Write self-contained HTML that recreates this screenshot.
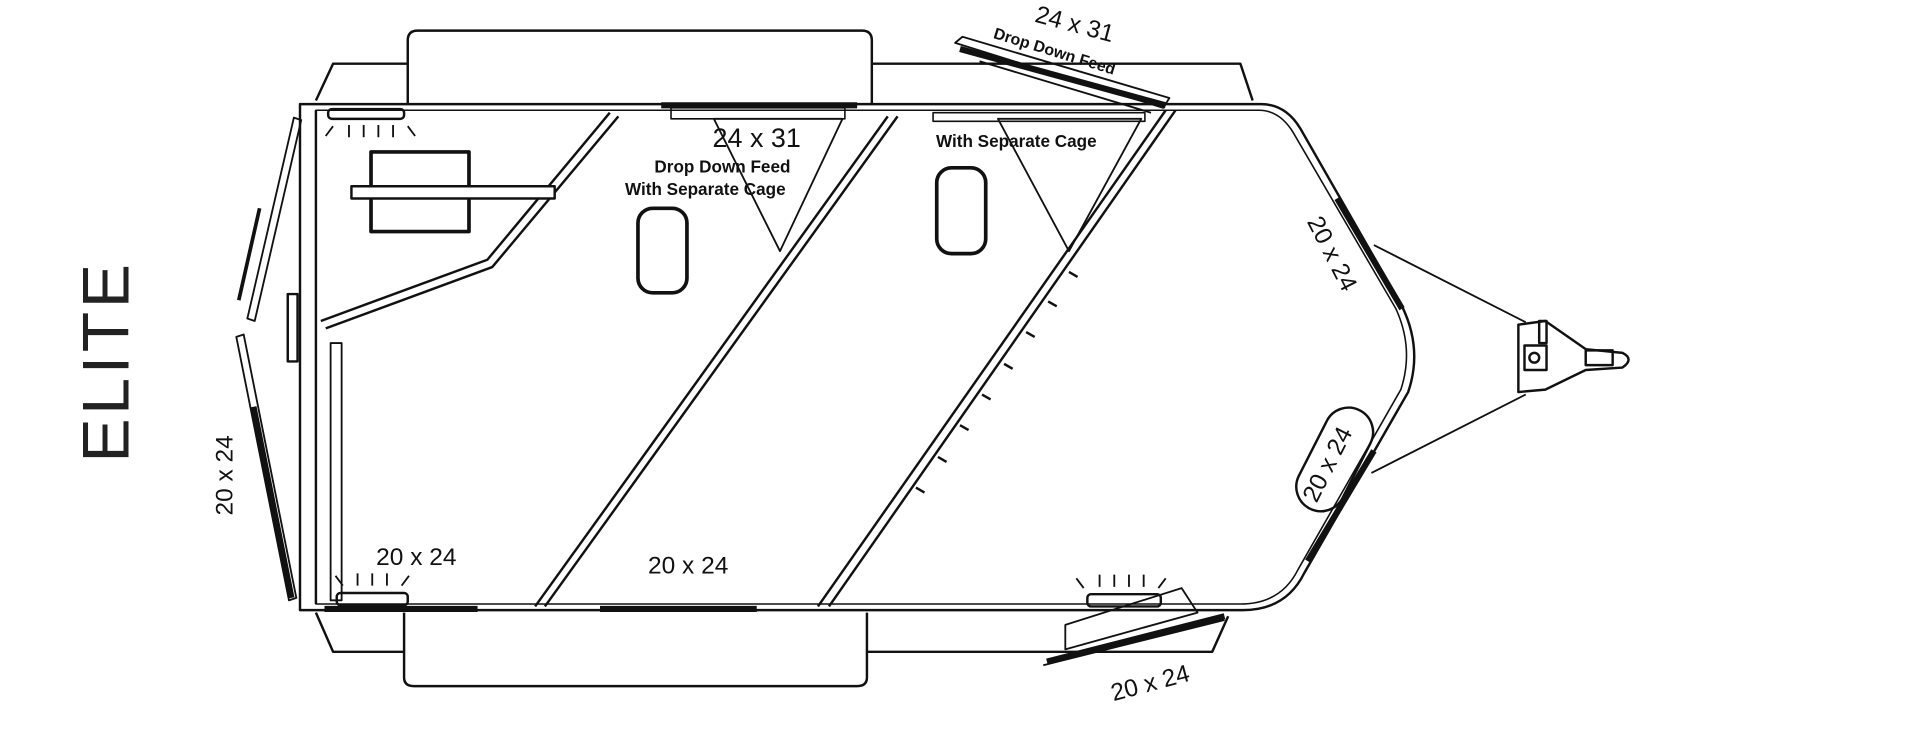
<!DOCTYPE html>
<html><head><meta charset="utf-8"><style>
html,body{margin:0;padding:0;background:#fff;}
svg{display:block}
text{font-family:"Liberation Sans",sans-serif;fill:#111}
</style></head><body>
<svg width="1920" height="740" viewBox="0 0 1568 604" preserveAspectRatio="none" xmlns="http://www.w3.org/2000/svg">
<g fill="none" stroke="#111" stroke-width="2" stroke-linejoin="round">
<path d="M333,85 V33 Q333,25 341,25 H704 Q712,25 712,33 V85"/>
<path d="M330,500 V553 Q330,560 338,560 H700 Q708,560 708,553 V500"/>
<path d="M258,82 L272,52 H333 M712,52 H1013 L1023,82"/>
<path d="M258,500 L272,532 H330 M708,532 H990 L1003,503"/>
<path d="M245,85 H1030 Q1050,85 1062,105 L1145,250 Q1162,285 1150,320 L1065,468 Q1050,498 1015,498 H245 Z"/>
<path d="M258,90 H1028 Q1045,90 1056,108 L1140,252 Q1155,285 1144,318 L1060,465 Q1046,493 1013,493 H258 Z" stroke-width="1.3"/>
<line x1="258" y1="90" x2="258" y2="493"/>
<g stroke-width="5">
<line x1="540" y1="86" x2="700" y2="86"/>
<line x1="265" y1="497" x2="390" y2="497"/>
<line x1="490" y1="497" x2="618" y2="497"/>
<line x1="1092" y1="162" x2="1145" y2="252"/>
<line x1="1068" y1="458" x2="1122" y2="368"/>
<line x1="784" y1="40" x2="952" y2="86"/>
<line x1="855" y1="540" x2="1000" y2="503"/>
<line x1="207" y1="332" x2="238" y2="488"/>
</g>
<path d="M780,35 L786,30 L955,80 L950,88 Z" stroke-width="1.5"/>
<path d="M800,50 L940,92" stroke-width="1.5"/>
<path d="M548,88 H690 V97 H548 Z" stroke-width="1.3"/>
<path d="M762,92 H935 V99 H762 Z" stroke-width="1.3"/>
<path d="M870,510 L965,480 L978,500 L870,530 Z" stroke-width="1.5"/>
<line x1="852" y1="543" x2="1000" y2="506" stroke-width="1.5"/>
<path d="M498,92 L398,212 L262,262" />
<path d="M505,95 L402,218 L266,268" />
<path d="M725,95 L437,495"/><path d="M733,95 L445,495"/>
<path d="M952,90 L668,495"/><path d="M960,90 L677,495"/>
<g stroke-width="2"><line x1="873" y1="222" x2="880" y2="226"/><line x1="856" y1="246" x2="863" y2="250"/><line x1="838" y1="271" x2="845" y2="275"/><line x1="820" y1="297" x2="827" y2="301"/><line x1="802" y1="322" x2="809" y2="326"/><line x1="784" y1="347" x2="791" y2="351"/><line x1="766" y1="373" x2="773" y2="377"/><line x1="748" y1="398" x2="755" y2="402"/></g>
<path d="M583,97 L688,97 L637,205 Z" stroke-width="1.5"/>
<path d="M815,97 L932,97 L873,205 Z" stroke-width="1.5"/>
<rect x="521" y="170" width="40" height="69" rx="12" stroke-width="3"/>
<rect x="765" y="137" width="40" height="70" rx="12" stroke-width="3"/>
<rect x="303" y="124" width="80" height="65" stroke-width="3"/>
<rect x="287" y="152" width="166" height="10" fill="#fff"/>
<rect x="270" y="280" width="9" height="210" stroke-width="1.5"/>
<path d="M240,96 L246,98 L208,262 L202,260 Z" stroke-width="1.5"/>
<path d="M193,275 L199,273 L242,488 L236,490 Z" stroke-width="1.5"/>
<path d="M212,170 L195,245" stroke-width="3"/>
<rect x="235" y="240" width="8" height="55"/>
<rect x="268" y="89" width="62" height="8" rx="3"/>
<path d="M272,103 l-6,8 M285,102 v10 M297,102 v10 M309,102 v10 M321,102 v10 M333,103 l6,8" stroke-width="1.5"/>
<rect x="275" y="484" width="58" height="10" rx="3"/>
<path d="M280,478 l-6,-8 M292,478 v-10 M304,478 v-10 M316,478 v-10 M328,478 l6,-8" stroke-width="1.5"/>
<rect x="888" y="485" width="60" height="10" rx="3"/>
<path d="M885,480 l-6,-8 M898,479 v-10 M910,479 v-10 M922,479 v-10 M934,479 v-10 M946,480 l6,-8" stroke-width="1.5"/>
<path d="M1122,200 L1246,263 M1120,386 L1246,322" stroke-width="1.5"/>
<path d="M1240,265 L1262,262 L1295,285 L1325,288 Q1335,293 1325,300 L1295,302 L1262,318 L1240,320 Z" stroke-width="2"/>
<rect x="1245" y="282" width="18" height="20" stroke-width="2"/>
<circle cx="1253" cy="292" r="4"/>
<rect x="1257" y="262" width="6" height="18"/>
<rect x="1295" y="286" width="22" height="12"/>
<rect x="1045" y="355" width="90" height="40" rx="20" transform="rotate(-63 1090 375)" stroke-width="2"/>
</g>
<text x="105" y="295" font-size="54" text-anchor="middle" transform="rotate(-90 105 295)" style="fill:#222;font-weight:normal;letter-spacing:3px">ELITE</text>
<text x="618" y="120" font-size="22" text-anchor="middle">24 x 31</text>
<text x="590" y="141" font-size="14" font-weight="bold" text-anchor="middle">Drop Down Feed</text>
<text x="576" y="159" font-size="14" font-weight="bold" text-anchor="middle">With Separate Cage</text>
<text x="830" y="120" font-size="14" font-weight="bold" text-anchor="middle">With Separate Cage</text>
<text x="876" y="26" font-size="20" text-anchor="middle" transform="rotate(15 876 26)">24 x 31</text>
<text x="860" y="46" font-size="13" font-weight="bold" text-anchor="middle" transform="rotate(17 860 46)">Drop Down Feed</text>
<text x="340" y="461" font-size="20" text-anchor="middle">20 x 24</text>
<text x="562" y="468" font-size="20" text-anchor="middle">20 x 24</text>
<text x="940" y="564" font-size="20" text-anchor="middle" transform="rotate(-15 940 560)">20 x 24</text>
<text x="1082" y="210" font-size="20" text-anchor="middle" transform="rotate(63 1082 210)">20 x 24</text>
<text x="1090" y="382" font-size="20" text-anchor="middle" transform="rotate(-63 1090 382)">20 x 24</text>
<text x="190" y="388" font-size="20" text-anchor="middle" transform="rotate(-90 190 388)">20 x 24</text>
</svg>
</body></html>
